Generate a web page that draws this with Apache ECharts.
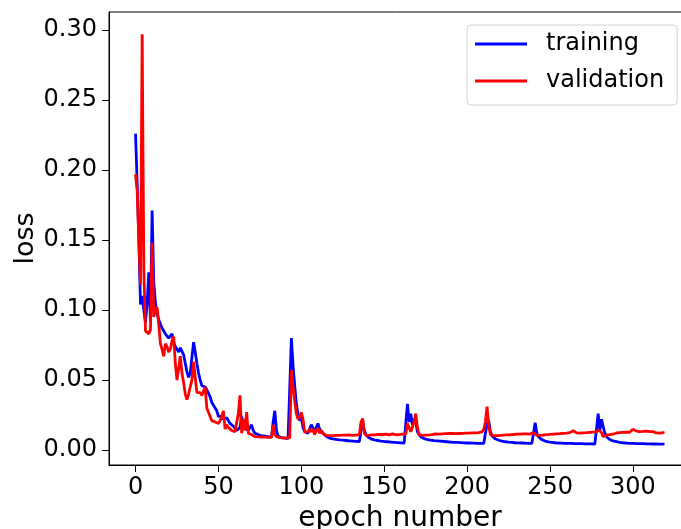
<!DOCTYPE html>
<html>
<head>
<meta charset="utf-8">
<script src="https://cdn.jsdelivr.net/npm/echarts@6/dist/echarts.min.js"></script>
<style>
  html, body { margin: 0; padding: 0; background: #fff; }
  #chart { width: 681px; height: 529px; }
</style>
</head>
<body>
<div id="chart"></div>
<script>
// loss per epoch
const training = [
  0.226, 0.190, 0.150, 0.104, 0.110, 0.100, 0.091, 0.105, 0.127, 0.092,
  0.171, 0.120, 0.105, 0.098, 0.093, 0.090, 0.087, 0.085, 0.083, 0.082,
  0.080, 0.079, 0.083, 0.077, 0.074, 0.072, 0.070, 0.073, 0.074, 0.068,
  0.062, 0.056, 0.052, 0.055, 0.066, 0.077, 0.070, 0.062, 0.055, 0.050,
  0.046, 0.047, 0.045, 0.043, 0.044, 0.038, 0.034, 0.032, 0.031, 0.028,
  0.024, 0.025, 0.024, 0.022, 0.023, 0.023, 0.021, 0.019, 0.018, 0.017,
  0.016, 0.014, 0.015, 0.016, 0.024, 0.018, 0.016, 0.015, 0.014, 0.016,
  0.018, 0.014, 0.012, 0.011, 0.011, 0.011, 0.010, 0.010, 0.010, 0.010,
  0.0095, 0.009, 0.009, 0.020, 0.028, 0.014, 0.010, 0.009, 0.0088, 0.0086,
  0.0085, 0.0084, 0.0083, 0.0082, 0.080, 0.060, 0.046, 0.033, 0.025, 0.021,
  0.024, 0.016, 0.013, 0.012, 0.012, 0.013, 0.018, 0.016, 0.012, 0.016,
  0.019, 0.015, 0.014, 0.012, 0.011, 0.0098, 0.009, 0.0085, 0.0082, 0.008,
  0.0078, 0.0076, 0.0074, 0.0072, 0.0071, 0.007, 0.0069, 0.0068, 0.0067, 0.0066,
  0.0065, 0.0064, 0.0063, 0.0062, 0.0061, 0.0060, 0.014, 0.020, 0.014, 0.011,
  0.0095, 0.0085, 0.008, 0.0076, 0.0072, 0.007, 0.0068, 0.0066, 0.0064, 0.0062,
  0.0061, 0.006, 0.0059, 0.0058, 0.0057, 0.0056, 0.0055, 0.0054, 0.0053, 0.0052,
  0.0051, 0.005, 0.005, 0.0049, 0.033, 0.020, 0.026, 0.018, 0.022, 0.020,
  0.013, 0.011, 0.0095, 0.0088, 0.0082, 0.0078, 0.0075, 0.0072, 0.007, 0.0068,
  0.0067, 0.0066, 0.0065, 0.0064, 0.0063, 0.0062, 0.0061, 0.006, 0.0059, 0.0058,
  0.0057, 0.0056, 0.0055, 0.0055, 0.0054, 0.0053, 0.0053, 0.0052, 0.0051, 0.0051,
  0.005, 0.005, 0.005, 0.0049, 0.0049, 0.0048, 0.0048, 0.0048, 0.0047, 0.0047,
  0.0047, 0.012, 0.018, 0.021, 0.013, 0.010, 0.0088, 0.008, 0.0074, 0.007,
  0.0066, 0.0063, 0.0061, 0.0059, 0.0057, 0.0056, 0.0055, 0.0054, 0.0053, 0.0052,
  0.0051, 0.0051, 0.005, 0.005, 0.0049, 0.0049, 0.0048, 0.0048, 0.0048, 0.0047,
  0.012, 0.0195, 0.012, 0.0095, 0.0082, 0.0074, 0.0068, 0.0064, 0.0061, 0.0058,
  0.0056, 0.0055, 0.0053, 0.0052, 0.0051, 0.005, 0.005, 0.0049, 0.0049, 0.0048,
  0.0048, 0.0047, 0.0047, 0.0047, 0.0046, 0.0046, 0.0046, 0.0045, 0.0045, 0.0045,
  0.0045, 0.0044, 0.0044, 0.0044, 0.0044, 0.0044, 0.0043, 0.0043, 0.015, 0.026,
  0.014, 0.022, 0.021, 0.012, 0.0095, 0.0082, 0.0075, 0.007, 0.0065, 0.0062,
  0.006, 0.0057, 0.0055, 0.0054, 0.0052, 0.0051, 0.005, 0.0049, 0.0048, 0.0048,
  0.0047, 0.0047, 0.0046, 0.0046, 0.0045, 0.0045, 0.0045, 0.0044, 0.0044, 0.0044,
  0.0044, 0.0043, 0.0043, 0.0043, 0.0043, 0.0043, 0.0042, 0.0042, 0.0042, 0.0042
];

const validation = [
  0.197, 0.185, 0.150, 0.118, 0.297, 0.130, 0.085, 0.084, 0.083, 0.086,
  0.148, 0.095, 0.100, 0.102, 0.090, 0.076, 0.072, 0.067, 0.076, 0.074,
  0.070, 0.072, 0.078, 0.081, 0.062, 0.050, 0.058, 0.067, 0.055, 0.048,
  0.040, 0.036, 0.040, 0.039, 0.050, 0.063, 0.052, 0.041, 0.040, 0.041,
  0.039, 0.040, 0.045, 0.030, 0.027, 0.024, 0.021, 0.022, 0.020, 0.020,
  0.019, 0.021, 0.024, 0.028, 0.015, 0.018, 0.016, 0.017, 0.014, 0.015,
  0.013, 0.013, 0.026, 0.039, 0.012, 0.022, 0.014, 0.027, 0.012, 0.013,
  0.011, 0.0105, 0.0095, 0.0098, 0.0094, 0.0096, 0.0093, 0.0095, 0.0092, 0.0094,
  0.0091, 0.0089, 0.0092, 0.018, 0.011, 0.0095, 0.0092, 0.0088, 0.009, 0.0087,
  0.0089, 0.0086, 0.0088, 0.0087, 0.057, 0.045, 0.035, 0.026, 0.022, 0.024,
  0.027, 0.022, 0.013, 0.012, 0.013, 0.015, 0.013, 0.015, 0.011, 0.014,
  0.0155, 0.012, 0.014, 0.012, 0.011, 0.0105, 0.010, 0.0102, 0.0099, 0.0103,
  0.0101, 0.0104, 0.0100, 0.0105, 0.0103, 0.0106, 0.0102, 0.0107, 0.0104, 0.0108,
  0.0112, 0.0105, 0.0109, 0.0106, 0.011, 0.0112, 0.020, 0.0225, 0.012, 0.0105,
  0.0102, 0.0106, 0.0104, 0.0108, 0.0105, 0.0109, 0.0107, 0.0112, 0.0108, 0.0111,
  0.0109, 0.0113, 0.0110, 0.0108, 0.0112, 0.0115, 0.0111, 0.0109, 0.0113, 0.0110,
  0.0112, 0.0114, 0.0111, 0.0115, 0.019, 0.020, 0.013, 0.012, 0.020, 0.026,
  0.016, 0.011, 0.0108, 0.0105, 0.0109, 0.0107, 0.0111, 0.0108, 0.0113, 0.0110,
  0.0112, 0.0115, 0.0111, 0.0114, 0.0112, 0.0116, 0.0113, 0.0117, 0.0114, 0.0118,
  0.0115, 0.0119, 0.0122, 0.0117, 0.0120, 0.0118, 0.0121, 0.0119, 0.0123, 0.0120,
  0.0124, 0.0121, 0.0119, 0.0122, 0.0120, 0.0123, 0.0121, 0.0124, 0.0126, 0.0130,
  0.0145, 0.020, 0.031, 0.018, 0.011, 0.0105, 0.0102, 0.0100, 0.0103, 0.0101,
  0.0104, 0.0108, 0.0106, 0.0110, 0.0108, 0.0111, 0.0109, 0.0113, 0.0111, 0.0115,
  0.0113, 0.0116, 0.0114, 0.0112, 0.0116, 0.0118, 0.0115, 0.0117, 0.0114, 0.0118,
  0.0125, 0.013, 0.0105, 0.0098, 0.0104, 0.0102, 0.0107, 0.0105, 0.0110, 0.0108,
  0.0112, 0.0110, 0.0114, 0.0112, 0.0116, 0.0113, 0.0117, 0.0115, 0.0119, 0.0116,
  0.0120, 0.0118, 0.0124, 0.0132, 0.0138, 0.0126, 0.0122, 0.0125, 0.0121, 0.0126,
  0.0123, 0.0127, 0.0124, 0.0122, 0.0126, 0.0124, 0.0128, 0.0126, 0.013, 0.0145,
  0.0155, 0.0125, 0.0095, 0.010, 0.0108, 0.0112, 0.0110, 0.0115, 0.0113, 0.0118,
  0.0122, 0.0119, 0.0124, 0.0121, 0.0126, 0.0123, 0.0128, 0.0131, 0.0127, 0.0135,
  0.0148, 0.0152, 0.0135, 0.0128, 0.0132, 0.0126, 0.0133, 0.0129, 0.0135, 0.0127,
  0.0132, 0.0126, 0.0131, 0.0128, 0.0122, 0.0126, 0.0121, 0.0127, 0.0124, 0.0125
];

const xTicks = [0, 50, 100, 150, 200, 250, 300];
const yTicks = [0, 0.05, 0.10, 0.15, 0.20, 0.25, 0.30];

const epochs = training.map((_, i) => i);
const font = 'DejaVu Sans';

const chart = echarts.init(document.getElementById('chart'));
chart.setOption({
  animation: false,
  backgroundColor: '#fff',
  grid: {
    left: 109, top: 12, width: 582, height: 453,
    show: true, borderColor: '#000', borderWidth: 1,
    containLabel: false,
    outerBoundsMode: 'none'
  },
  legend: {
    orient: 'vertical',
    left: 467, top: 25,
    padding: [7, 13, 12, 8],
    itemGap: 13,
    itemWidth: 52, itemHeight: 3,
    icon: 'rect',
    borderColor: '#d4d4d4', borderWidth: 1, borderRadius: 4,
    backgroundColor: 'rgba(255,255,255,0.8)',
    textStyle: { fontFamily: font, fontSize: 24, color: '#000', lineHeight: 24, padding: [0, 0, 0, 14] },
    data: ['training', 'validation']
  },
  xAxis: {
    type: 'value',
    min: -16, max: 335,
    name: 'epoch number',
    nameLocation: 'middle',
    nameGap: 37,
    nameTextStyle: { fontFamily: font, fontSize: 28, color: '#000' },
    axisLine: { show: true, onZero: false, lineStyle: { color: '#000', width: 1 } },
    axisTick: { show: true, length: 7, customValues: xTicks, lineStyle: { color: '#000' } },
    axisLabel: { customValues: xTicks, fontFamily: font, fontSize: 24, color: '#000', margin: 11 },
    splitLine: { show: false }
  },
  yAxis: {
    type: 'value',
    min: -0.0107, max: 0.3129,
    name: 'loss',
    nameLocation: 'middle',
    nameRotate: 90,
    nameGap: 70,
    nameMoveOverlap: false,
    nameTextStyle: { fontFamily: font, fontSize: 27, color: '#000' },
    axisLine: { show: true, onZero: false, lineStyle: { color: '#000', width: 1 } },
    axisTick: { show: true, length: 7, customValues: yTicks, lineStyle: { color: '#000' } },
    axisLabel: {
      customValues: yTicks, fontFamily: font, fontSize: 24, color: '#000', margin: 12,
      formatter: v => v.toFixed(2)
    },
    splitLine: { show: false }
  },
  series: [
    {
      name: 'training',
      type: 'line',
      showSymbol: false,
      symbol: 'none',
      color: '#0000ff',
      lineStyle: { color: '#0000ff', width: 2.8 },
      data: epochs.map(i => [i, training[i]])
    },
    {
      name: 'validation',
      type: 'line',
      showSymbol: false,
      symbol: 'none',
      color: '#ff0000',
      lineStyle: { color: '#ff0000', width: 2.8 },
      data: epochs.map(i => [i, validation[i]])
    }
  ]
});
</script>
</body>
</html>
